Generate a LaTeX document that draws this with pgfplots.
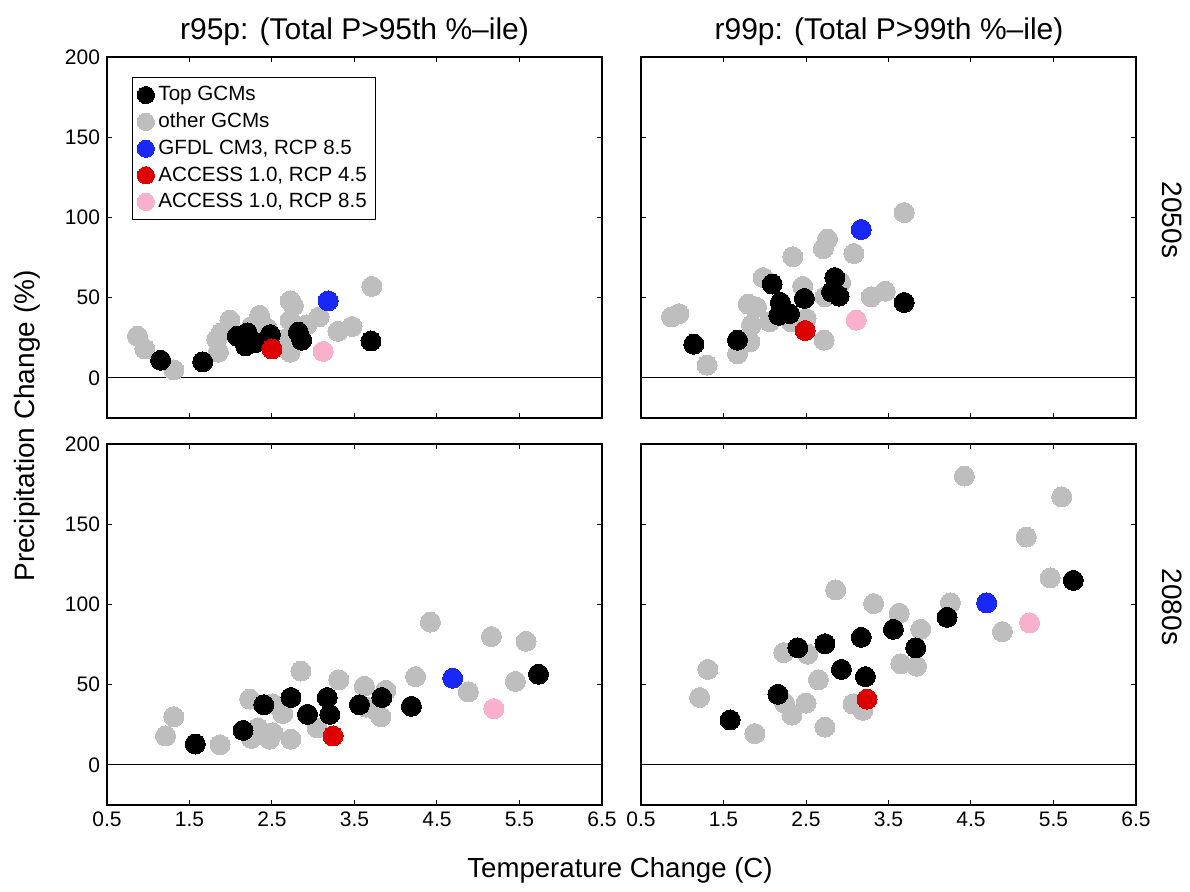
\documentclass[border=0pt]{standalone}
\usepackage{fontspec}
\setmainfont{Liberation Sans}
\usepackage{pgfplots}
\pgfplotsset{compat=1.18}
\definecolor{ogray}{RGB}{190,190,190}
\definecolor{gblue}{RGB}{25,40,245}
\definecolor{ared}{RGB}{220,0,0}
\definecolor{apink}{RGB}{248,176,205}
\pgfplotsset{
 panel/.style={scale only axis, width=247.5pt, height=180.5pt,
   xmin=0.5, xmax=6.5, ymin=-25, ymax=200,
   xtick={0.5,1.5,2.5,3.5,4.5,5.5,6.5}, ytick={0,50,100,150,200},
   xtick pos=both, ytick pos=both,
   tick align=inside, major tick length=2.5pt,
   axis line style={line width=0.6pt},
   every tick/.style={black, line width=0.5pt},
   anchor=south west,
   tick label style={font=\fontsize{10.5}{12}\selectfont},
   clip=true},
 gcm/.style={only marks, mark=*, mark size=5pt, color=#1, mark options={draw=#1, fill=#1, line width=0pt}, forget plot},
 lgcm/.style={only marks, mark=*, mark size=4.3pt, color=#1, mark options={draw=#1, fill=#1, line width=0pt}},
 zero/.style={black, line width=0.6pt, no marks, forget plot},
}
\begin{document}
\begin{tikzpicture}
\useasboundingbox (0,0) rectangle (595pt,446pt);
% ---------- top left: r95p 2050s ----------
\begin{axis}[panel, at={(53.5pt,237pt)}, xticklabels={}, yticklabels={0,50,100,150,200},
  legend style={at={(0.05,0.945)}, anchor=north west, draw=black, line width=0.5pt,
    font=\fontsize{10.3}{12}\selectfont, cells={anchor=west}, row sep=0.6pt, inner sep=2.5pt}]
\addlegendimage{lgcm=black}
\addlegendentry{Top GCMs}
\addlegendimage{lgcm=ogray}
\addlegendentry{other GCMs}
\addlegendimage{lgcm=gblue}
\addlegendentry{GFDL CM3, RCP 8.5}
\addlegendimage{lgcm=ared}
\addlegendentry{ACCESS 1.0, RCP 4.5}
\addlegendimage{lgcm=apink}
\addlegendentry{ACCESS 1.0, RCP 8.5}
\addplot[zero] coordinates {(0.5,0) (6.5,0)};
\addplot[gcm=ogray] coordinates {(0.87,26) (0.96,18) (1.31,5) (1.83,24) (1.85,16) (1.88,28) (1.99,36) (2.25,32) (2.35,39) (2.44,31) (2.65,24) (2.72,48) (2.76,45) (2.72,36) (2.92,33) (2.72,16) (3.07,38) (3.30,29) (3.47,32) (3.71,57)};
\addplot[gcm=black] coordinates {(1.15,11) (1.66,10) (2.08,26) (2.20,28) (2.18,20) (2.30,22) (2.48,27) (2.82,28.5) (2.86,23.5) (3.70,23)};
\addplot[gcm=gblue] coordinates {(3.18,48)};
\addplot[gcm=ared] coordinates {(2.50,18)};
\addplot[gcm=apink] coordinates {(3.12,16.5)};
\end{axis}
% ---------- top right: r99p 2050s ----------
\begin{axis}[panel, at={(320.5pt,237pt)}, xticklabels={}, yticklabels={}]
\addplot[zero] coordinates {(0.5,0) (6.5,0)};
\addplot[gcm=ogray] coordinates {(0.87,38) (0.96,40) (1.30,8) (1.67,15) (1.82,22.5) (1.84,33) (1.80,46) (1.90,44) (1.98,62.5) (2.06,35) (2.34,75.5) (2.46,57) (2.50,37) (2.32,35) (2.76,86.5) (2.71,80.5) (2.73,50.5) (2.72,23.5) (2.92,59.5) (3.08,77.5) (3.29,50.5) (3.46,54) (3.69,103)};
\addplot[gcm=black] coordinates {(1.14,21) (1.67,23.5) (2.09,58.5) (2.19,47) (2.17,39) (2.30,40) (2.48,49.5) (2.85,62.5) (2.81,53.5) (2.90,51) (3.69,47)};
\addplot[gcm=gblue] coordinates {(3.17,92.5)};
\addplot[gcm=ared] coordinates {(2.49,29.5)};
\addplot[gcm=apink] coordinates {(3.11,36)};
\end{axis}
% ---------- bottom left: r95p 2080s ----------
\begin{axis}[panel, at={(53.5pt,43.5pt)}, xticklabels={0.5,1.5,2.5,3.5,4.5,5.5,6.5}, yticklabels={0,50,100,150,200}]
\addplot[zero] coordinates {(0.5,0) (6.5,0)};
\addplot[gcm=ogray] coordinates {(1.21,18) (1.31,30) (1.87,12.5) (2.23,41) (2.25,16.5) (2.33,23) (2.47,16) (2.51,20) (2.51,38) (2.63,32) (2.73,16) (2.85,58.5) (3.05,23) (3.31,53) (3.62,49) (3.64,36) (3.76,34) (3.88,46.5) (3.82,30) (4.24,55) (4.42,89) (4.88,45.5) (5.16,80) (5.45,52) (5.58,77)};
\addplot[gcm=black] coordinates {(1.57,13) (2.15,21.5) (2.40,37.5) (2.73,42) (2.93,31.5) (3.17,42) (3.20,31.5) (3.56,37.5) (3.83,42) (4.19,36.5) (5.73,56.5)};
\addplot[gcm=gblue] coordinates {(4.69,54)};
\addplot[gcm=ared] coordinates {(3.24,18)};
\addplot[gcm=apink] coordinates {(5.19,35)};
\end{axis}
% ---------- bottom right: r99p 2080s ----------
\begin{axis}[panel, at={(320.5pt,43.5pt)}, xticklabels={0.5,1.5,2.5,3.5,4.5,5.5,6.5}, yticklabels={}]
\addplot[zero] coordinates {(0.5,0) (6.5,0)};
\addplot[gcm=ogray] coordinates {(1.21,42) (1.31,59.5) (1.88,19.5) (2.23,70) (2.52,69) (2.24,38.5) (2.33,31) (2.50,38.5) (2.65,53) (2.73,23.5) (2.86,109) (3.07,38) (3.19,34) (3.32,100.5) (3.63,94.5) (3.65,63) (3.84,61.5) (3.89,84.5) (4.25,101) (4.42,180) (4.88,83) (5.17,142) (5.46,116.5) (5.60,167)};
\addplot[gcm=black] coordinates {(1.58,28) (2.16,44) (2.40,73) (2.73,75.5) (2.93,59.5) (3.17,79.5) (3.22,55) (3.56,84.5) (3.83,73) (4.21,92) (5.74,115)};
\addplot[gcm=gblue] coordinates {(4.69,101)};
\addplot[gcm=ared] coordinates {(3.24,41)};
\addplot[gcm=apink] coordinates {(5.21,88.5)};
\end{axis}
% ---------- titles and labels ----------
\node[font=\fontsize{15}{18}\selectfont] at (177.25pt,430pt) {r95p: (Total P>95th \%--ile)};
\node[font=\fontsize{15}{18}\selectfont] at (444.5pt,430pt) {r99p: (Total P>99th \%--ile)};
\node[font=\fontsize{14}{16}\selectfont, rotate=90] at (13.5pt,233pt) {Precipitation Change (\%)};
\node[font=\fontsize{13.8}{16}\selectfont] at (310pt,11pt) {Temperature Change (C)};
\node[font=\fontsize{14}{16}\selectfont, rotate=-90] at (586pt,336pt) {2050s};
\node[font=\fontsize{14}{16}\selectfont, rotate=-90] at (586pt,142.5pt) {2080s};
\end{tikzpicture}
\end{document}
